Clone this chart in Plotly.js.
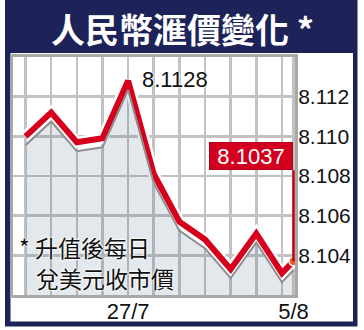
<!DOCTYPE html>
<html><head><meta charset="utf-8">
<script src="https://cdn.plot.ly/plotly-3.0.1.min.js"></script>
<style>html,body{margin:0;padding:0;background:#fff;}#chart{width:364px;height:330px;}</style>
</head><body><div id="chart"></div>
<script>
// ---- data ----
const dates = ['21/7','22/7','25/7','26/7','27/7','28/7','29/7','1/8','2/8','3/8','4/8','5/8'];
const slot  = [0,1,2,3,4,5,6,7,8,9,10,10.45];   // horizontal slot of each daily close as drawn
const rate  = [8.1100,8.1112,8.1097,8.1099,8.1128,8.1081,8.1057,8.1048,8.1033,8.1051,8.1031,8.1037];
const labelDates = ['27/7','5/8'];
const yTicks = [8.104,8.106,8.108,8.110,8.112];
const titleText = '人民幣滙價變化 *';
const note1 = '* 升值後每日';
const note2 = '兌美元收市價';

// ---- geometry / style ----
const W = 364, H = 330;
const m = {l:13, r:69, t:57, b:35};
const pw = W - m.l - m.r, ph = H - m.t - m.b;
const xp = px => (px - m.l) / pw;
const yp = py => (H - m.b - py) / ph;
const yRange = [8.102, 8.114];
const shadowShift = 9 / ph * (yRange[1] - yRange[0]);
const NAVY = '#1d2258', RED = '#d6001c', GRID = '#c2c2c2';
const NUMFONT = 'Liberation Sans, Arial, sans-serif';
const CJK = 'Noto Sans CJK TC, Noto Sans CJK SC, sans-serif';
const halo = '0 0 2px #fff, 0 0 2px #fff, 0 0 3px #fff';

const last = rate.length - 1;
const peak = rate.indexOf(Math.max(...rate));
const labelSlots = labelDates.map(d => slot[dates.indexOf(d)]);

const traces = [
  {x: slot, y: rate, yaxis: 'y2', mode: 'lines', line: {color: '#8e8e8e', width: 2},
   fill: 'tozeroy', fillcolor: 'rgba(60,90,130,0.14)', hoverinfo: 'skip'},
  {x: slot, y: rate, mode: 'lines', line: {color: '#ffffff', width: 11}, hoverinfo: 'skip'},
  {x: slot, y: rate, mode: 'lines', line: {color: RED, width: 6}},
  {x: [slot[last]], y: [rate[last]], mode: 'markers',
   marker: {size: 9, color: '#ef5a2a', line: {color: '#ffffff', width: 1.5}}}
];

const layout = {
  width: W, height: H, margin: m, showlegend: false,
  paper_bgcolor: '#ffffff', plot_bgcolor: '#ffffff',
  xaxis: {range: [-0.49, 10.51], tickvals: labelSlots, ticktext: labelDates,
    showgrid: true, gridcolor: GRID, gridwidth: 2.5,
    minor: {tick0: 0, dtick: 1, showgrid: true, gridcolor: GRID, gridwidth: 2.5},
    ticks: '', zeroline: false, showline: true, mirror: true, linecolor: '#a8a8a8', linewidth: 3,
    ticklabelstandoff: -5,
    tickfont: {family: NUMFONT, size: 22, color: '#111'}, fixedrange: true},
  yaxis: {range: yRange, side: 'right', tickvals: yTicks, ticktext: yTicks.map(v => v.toFixed(3)),
    showgrid: true, gridcolor: GRID, gridwidth: 2.5,
    minor: {tick0: yRange[0], dtick: 0.002, showgrid: true, gridcolor: GRID, gridwidth: 2.5},
    ticks: '', zeroline: false, showline: true, mirror: true, linecolor: '#a8a8a8', linewidth: 3,
    ticklabelstandoff: -4,
    tickfont: {family: NUMFONT, size: 21, color: '#111'}, fixedrange: true},
  yaxis2: {overlaying: 'y', anchor: 'x', visible: false,
    range: [yRange[0] + shadowShift, yRange[1] + shadowShift], fixedrange: true},
  shapes: [
    {type: 'rect', xref: 'paper', yref: 'paper', layer: 'below',
     x0: xp(5), x1: xp(357.5), y0: yp(0), y1: yp(326.5), fillcolor: NAVY, line: {width: 0}},
    {type: 'rect', xref: 'paper', yref: 'paper', layer: 'below',
     x0: xp(10.5), x1: xp(353), y0: yp(53), y1: yp(321.5), fillcolor: '#ffffff', line: {width: 0}}
  ],
  annotations: [
    {xref: 'paper', yref: 'paper', x: xp(182), y: yp(28.5), text: titleText, showarrow: false,
     xanchor: 'center', yanchor: 'middle',
     font: {family: CJK, size: 34, color: '#ffffff', weight: 700}},
    {x: slot[peak], y: rate[peak], text: rate[peak].toFixed(4), showarrow: false,
     xanchor: 'left', yanchor: 'middle', xshift: 12, yshift: 1,
     font: {family: NUMFONT, size: 22, color: '#111', shadow: halo}},
    {x: slot[last], y: rate[last], text: rate[last].toFixed(4), showarrow: true,
     arrowhead: 0, arrowwidth: 2.5, arrowcolor: '#c4001a', ax: 0, ay: -91,
     xanchor: 'right', yanchor: 'bottom', bgcolor: '#d2001e', bordercolor: '#b5001a',
     borderwidth: 1, borderpad: 1, width: 80, height: 24,
     font: {family: NUMFONT, size: 22, color: '#ffffff'}},
    {xref: 'paper', yref: 'paper', x: xp(17), y: yp(247), text: note1, showarrow: false,
     xanchor: 'left', yanchor: 'middle',
     font: {family: CJK, size: 23, color: '#111', shadow: halo}},
    {xref: 'paper', yref: 'paper', x: xp(34), y: yp(278), text: note2, showarrow: false,
     xanchor: 'left', yanchor: 'middle',
     font: {family: CJK, size: 23, color: '#111', shadow: halo}}
  ]
};

Plotly.newPlot('chart', traces, layout, {displayModeBar: false, staticPlot: true});
</script>
</body></html>
